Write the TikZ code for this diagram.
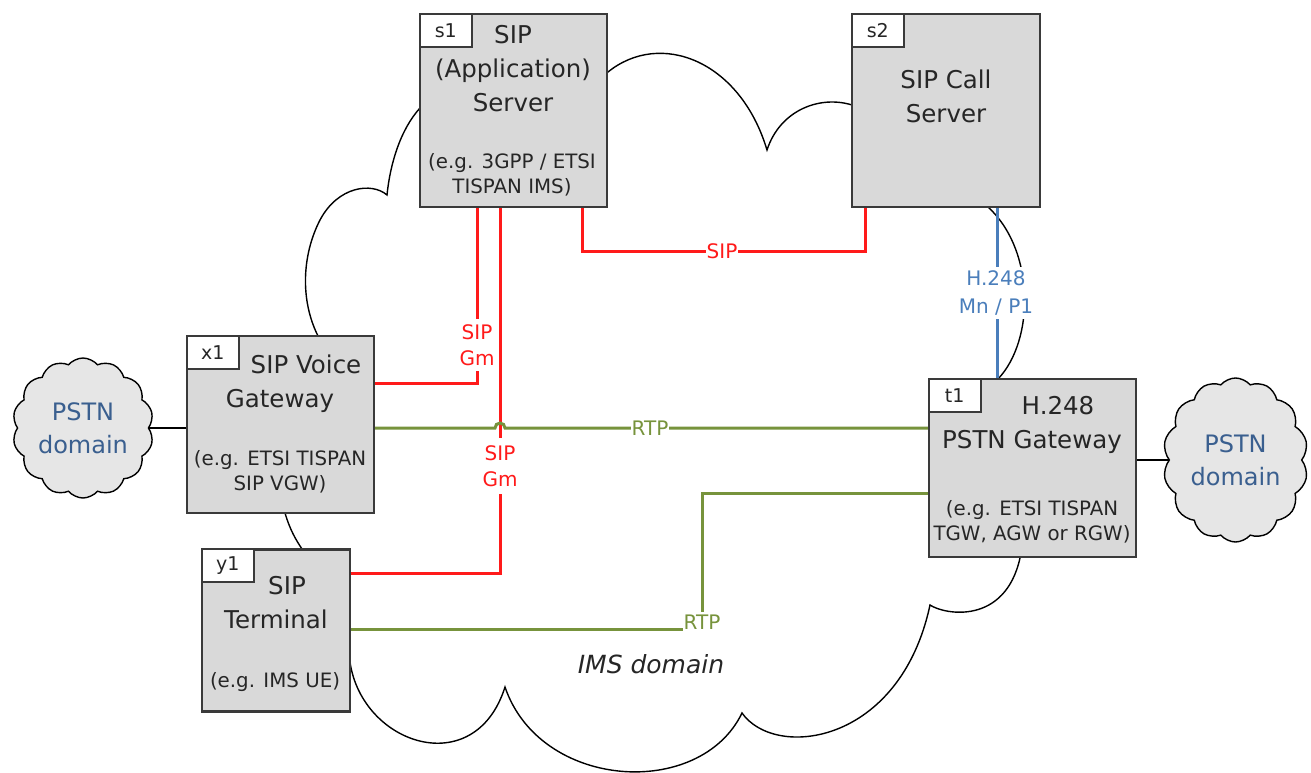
\documentclass[tikz,border=0pt]{standalone}
\usepackage{fontspec}
\setmainfont{DejaVu Sans}
\usetikzlibrary{shapes.symbols}
\pgfdeclarelayer{background}
\pgfsetlayers{background,main}
\definecolor{sipred}{HTML}{FF1A1A}
\definecolor{rtpgreen}{HTML}{77933C}
\definecolor{hblue}{HTML}{4A7EBB}
\definecolor{boxgray}{HTML}{D9D9D9}
\definecolor{boxedge}{HTML}{3A3A3A}
\definecolor{pstnfill}{HTML}{E6E6E6}
\definecolor{pstntext}{HTML}{3A5F8F}
\definecolor{txt}{HTML}{262626}
\begin{document}
\begin{tikzpicture}[x=1pt,y=-1pt,
  sbox/.style={draw=boxedge, fill=boxgray, line width=2.3pt, inner sep=0pt},
  tagbox/.style={draw=boxedge, fill=white, line width=1.8pt, minimum width=52pt, minimum height=33pt, inner sep=0pt, anchor=north west, font=\fontsize{19}{22}\selectfont, text=txt},
  ttl/.style={align=center, font=\fontsize{24.5}{34}\selectfont, text=txt, inner sep=0pt},
  sub/.style={align=center, font=\fontsize{19.8}{25}\selectfont, text=txt, inner sep=0pt},
  sipc/.style={draw=sipred, line width=3pt},
  rtpc/.style={draw=rtpgreen, line width=3pt},
  h248c/.style={draw=hblue, line width=3pt},
  plainc/.style={draw=black, line width=2.8pt},
  lbl/.style={fill=white, inner xsep=1pt, inner ysep=5pt, align=center, font=\fontsize{20}{26}\selectfont},
  cloudline/.style={draw=black, line width=1.4pt},
  pstn/.style={cloud, cloud puffs=14, cloud puff arc=100, draw=black, line width=1.4pt, fill=pstnfill, text=pstntext, align=center, font=\fontsize{24}{33}\selectfont, inner sep=0pt}
]
\useasboundingbox (0,0) rectangle (1311,773);

% boxes
\node[sbox, minimum width=187pt, minimum height=193pt] (s1) at (513.5,110.5) {};
\node[sbox, minimum width=188pt, minimum height=193pt] (s2) at (946,110.5) {};
\node[sbox, minimum width=187pt, minimum height=177pt] (x1) at (280.5,424.5) {};
\node[sbox, minimum width=148pt, minimum height=162pt] (y1) at (276,630.5) {};
\node[sbox, minimum width=207pt, minimum height=178pt] (t1) at (1032.5,468) {};

\node[tagbox] (s1tag) at (s1.north west) {s1};
\node[tagbox] (s2tag) at (s2.north west) {s2};
\node[tagbox] (x1tag) at (x1.north west) {x1};
\node[tagbox] (y1tag) at (y1.north west) {y1};
\node[tagbox] (t1tag) at (t1.north west) {t1};

\node[ttl] (s1ttl) at (513,69) {SIP\\(Application)\\Server};
\node[sub] (s1sub) at (512,174.5) {(e.g. 3GPP / ETSI\\TISPAN IMS)};
\node[ttl] (s2ttl) at (946,96) {SIP Call\\Server};
\node[ttl] (x1ttl) at (280,384) {\hspace*{52pt}SIP Voice\\Gateway};
\node[sub] (x1sub) at (280,471.5) {(e.g. ETSI TISPAN\\SIP VGW)};
\node[ttl] (t1ttl) at (1032,425) {\hspace*{52pt}H.248\\PSTN Gateway};
\node[sub] (t1sub) at (1032,521.5) {(e.g. ETSI TISPAN\\TGW, AGW or RGW)};
\node[ttl] (y1ttl) at (276,603) {\hspace*{22pt}SIP\\Terminal};
\node[sub] (y1sub) at (275,682) {(e.g. IMS UE)};

% PSTN clouds
\node[pstn, minimum width=141pt, minimum height=140pt] (pstnL) at (83,428) {PSTN\\domain};
\node[pstn, minimum width=145pt, minimum height=164pt] (pstnR) at (1235.5,460) {PSTN\\domain};

\node[font=\fontsize{25}{30}\selectfont\itshape, text=txt] (ims) at (651,664) {IMS domain};

% background: IMS cloud and PSTN links
\begin{pgfonlayer}{background}
\draw[cloudline] (440,120) -- (420,108)
 .. controls (400,130) and (390,165) .. (387,195)
 .. controls (372,182) and (338,186) .. (320,220)
 .. controls (302,255) and (300,300) .. (318,336)
 -- (300,450) -- (285,513)
 .. controls (290,530) and (296,540) .. (302,549)
 -- (320,640) -- (350,662)
 .. controls (362,745) and (475,782) .. (505,687)
 .. controls (540,790) and (700,800) .. (742,713)
 .. controls (775,760) and (900,745) .. (930,605)
 .. controls (945,615) and (1005,625) .. (1020,558)
 -- (1010,450) -- (998,379)
 .. controls (1035,340) and (1035,250) .. (988,207)
 -- (900,150) -- (852,105)
 .. controls (820,95) and (780,110) .. (767,150)
 .. controls (740,60) and (660,30) .. (608,72)
 -- cycle;
\draw[plainc] (pstnL.center) -- (x1.west |- pstnL.center);
\draw[plainc] (t1.east |- pstnR.center) -- (pstnR.center);
\end{pgfonlayer}

% connector waypoints
\coordinate (gx1) at (477,383);
\coordinate (gy1) at (500,573);
\coordinate (sipa) at (582,251);
\coordinate (sipb) at (865,251);
\coordinate (rtp1y) at (0,428);
\coordinate (hop) at (500,428);
\coordinate (rtp2c) at (702,629);
\coordinate (rtp2u) at (702,493);
\coordinate (hx) at (997,0);

\draw[sipc] (s1.south -| gx1) |- (x1.east |- gx1);
\draw[sipc] (s1.south -| gy1) |- (y1.east |- gy1);
\draw[sipc] (s1.south -| sipa) -- (sipa) -- (sipb) -- (s2.south -| sipb);
\draw[rtpc] (x1.east |- rtp1y) -- ([xshift=-5pt]hop) arc[start angle=180, end angle=0, radius=5pt] -- (t1.west |- rtp1y);
\draw[rtpc] (y1.east |- rtp2c) -- (rtp2c) -- (rtp2u) -- (t1.west |- rtp2u);
\draw[h248c] (s2.south -| hx) -- (t1.north -| hx);

% labels
\node[lbl, text=sipred] (lsip1) at (477,345) {SIP\\Gm};
\node[lbl, text=sipred, inner ysep=7pt] (lsip2) at (500,466) {SIP\\Gm};
\node[lbl, text=sipred, inner ysep=1pt] (lsip3) at (722,251) {SIP};
\node[lbl, text=rtpgreen, inner ysep=1pt] (lrtp1) at (650,428) {RTP};
\node[lbl, text=rtpgreen, inner ysep=2pt, anchor=base] (lrtp2) at (rtp2c) {RTP};
\node[lbl, text=hblue, font=\fontsize{20}{28}\selectfont, inner ysep=4pt] (lh248) at (996,293) {H.248\\Mn / P1};
\end{tikzpicture}
\end{document}
